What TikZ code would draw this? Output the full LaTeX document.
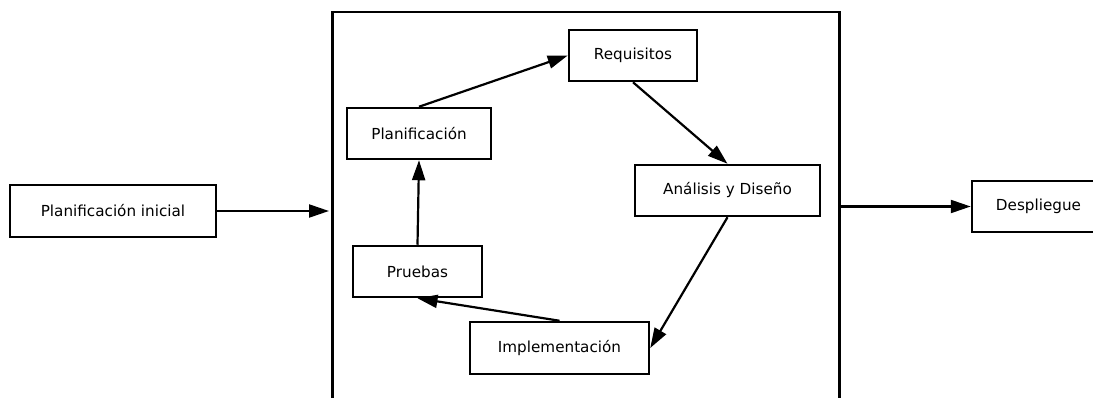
\documentclass[tikz,border=0pt]{standalone}
\usepackage{fontspec}
\setmainfont{DejaVu Sans}
\usetikzlibrary{arrows.meta}
\begin{document}
\begin{tikzpicture}[x=1pt,y=-1pt,
  box/.style={draw=black, line width=2.5pt, fill=white, inner sep=0pt, font=\fontsize{15.2}{18}\selectfont},
  conn/.style={draw=black, line width=2.2pt, -{Triangle[length=20pt,width=13pt]}}]
\useasboundingbox (0,0) rectangle (1093,398);
\node[box, minimum width=507pt, minimum height=420pt, anchor=north west] (big) at (331,11) {};
\node[box, minimum width=206pt, minimum height=52pt] (pi) at (113,211) {Planificación inicial};
\node[box, minimum width=133pt, minimum height=51pt] (desp) at (1038.5,206.5) {Despliegue};
\node[box, minimum width=128pt, minimum height=51pt] (req) at (633,55.5) {Requisitos};
\node[box, minimum width=144pt, minimum height=51pt] (pl) at (419,133.5) {Planificación};
\node[box, minimum width=185pt, minimum height=51pt] (an) at (727.5,190.5) {Análisis y Diseño};
\node[box, minimum width=129pt, minimum height=51pt] (pr) at (417.5,271.5) {Pruebas};
\node[box, minimum width=179pt, minimum height=52pt] (im) at (559.5,348) {Implementación};
\draw[conn, shorten >=2pt] (pi.east) -- (big.west |- pi.east);
\draw[conn] (big.east |- desp.west) -- (desp.west);
\draw[conn] (pl.north) -- (req.west);
\draw[conn] (req.south) -- (an.north);
\draw[conn] (an.south) -- (im.east);
\draw[conn] (im.north) -- (pr.south);
\draw[conn] (pr.north) -- (pl.south);
\end{tikzpicture}
\end{document}
